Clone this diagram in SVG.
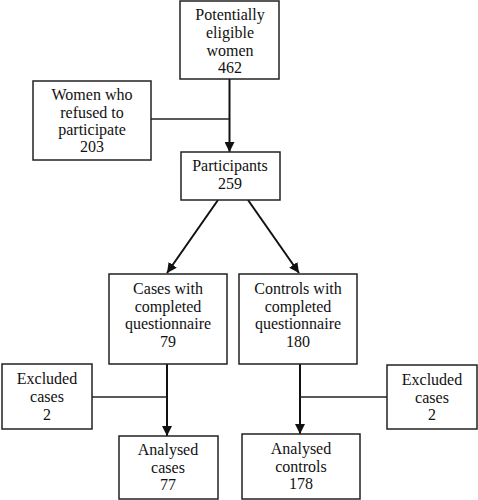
<svg xmlns="http://www.w3.org/2000/svg" width="478" height="500" viewBox="0 0 478 500">
<style>
.box{fill:#fff;stroke:#222;stroke-width:1.5}
.arr{stroke:#111;stroke-width:2;fill:none}
.thin{stroke:#222;stroke-width:1.3;fill:none}
</style>
<defs>
<marker id="ah" viewBox="0 0 10 10" refX="10" refY="5" markerWidth="5" markerHeight="5" markerUnits="strokeWidth" orient="auto">
<path d="M0,0 L10,5 L0,10 z" fill="#111"/>
</marker>
</defs>
<rect width="478" height="500" fill="#fff"/>
<g id="connectors">
<line class="arr" x1="229.5" y1="79" x2="229.5" y2="152" marker-end="url(#ah)"/>
<line class="thin" x1="151" y1="119" x2="229.5" y2="119"/>
<line class="arr" x1="218" y1="200" x2="167" y2="273" marker-end="url(#ah)"/>
<line class="arr" x1="248" y1="200" x2="299" y2="273" marker-end="url(#ah)"/>
<line class="arr" x1="167" y1="364" x2="167" y2="436" marker-end="url(#ah)"/>
<line class="thin" x1="92" y1="397" x2="167" y2="397"/>
<line class="arr" x1="300" y1="364" x2="300" y2="434" marker-end="url(#ah)"/>
<line class="thin" x1="300" y1="397" x2="387" y2="397"/>
</g>
<g font-family="Liberation Serif, serif" font-size="16" fill="#111" text-anchor="middle">
<g id="eligible">
<rect class="box" x="180" y="1" width="99" height="78"/>
<text x="230" y="20">Potentially</text>
<text x="230" y="38">eligible</text>
<text x="230" y="56">women</text>
<text x="230" y="73">462</text>
</g>
<g id="refused">
<rect class="box" x="33" y="81" width="118" height="79"/>
<text x="92" y="100">Women who</text>
<text x="92" y="118">refused to</text>
<text x="92" y="135">participate</text>
<text x="92" y="152">203</text>
</g>
<g id="participants">
<rect class="box" x="181" y="152" width="99" height="48"/>
<text x="230" y="171">Participants</text>
<text x="230" y="189">259</text>
</g>
<g id="cases">
<rect class="box" x="109" y="274" width="118" height="90"/>
<text x="168" y="294">Cases with</text>
<text x="168" y="312">completed</text>
<text x="168" y="329">questionnaire</text>
<text x="168" y="347">79</text>
</g>
<g id="controls">
<rect class="box" x="239" y="274" width="118" height="90"/>
<text x="298" y="294">Controls with</text>
<text x="298" y="312">completed</text>
<text x="298" y="329">questionnaire</text>
<text x="298" y="347">180</text>
</g>
<g id="excluded-left">
<rect class="box" x="2" y="364" width="90" height="65"/>
<text x="47" y="384">Excluded</text>
<text x="47" y="402">cases</text>
<text x="47" y="420">2</text>
</g>
<g id="excluded-right">
<rect class="box" x="387" y="365" width="90" height="64"/>
<text x="432" y="385">Excluded</text>
<text x="432" y="403">cases</text>
<text x="432" y="420">2</text>
</g>
<g id="analysed-cases">
<rect class="box" x="119" y="436" width="99" height="63"/>
<text x="168" y="455">Analysed</text>
<text x="168" y="473">cases</text>
<text x="168" y="490">77</text>
</g>
<g id="analysed-controls">
<rect class="box" x="242" y="434" width="118" height="65"/>
<text x="301" y="454">Analysed</text>
<text x="301" y="472">controls</text>
<text x="301" y="489">178</text>
</g>
</g>
</svg>
